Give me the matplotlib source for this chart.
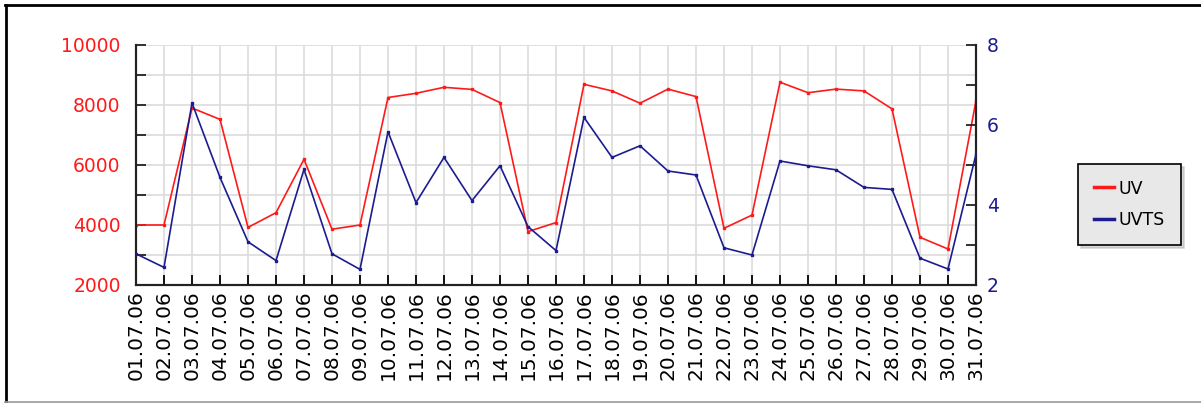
import matplotlib
matplotlib.use("Agg")
import matplotlib.pyplot as plt
from matplotlib.lines import Line2D
from matplotlib.ticker import MultipleLocator

dates = [f"{d:02d}.07.06" for d in range(1, 32)]
uv = [4000, 4000, 7900, 7520, 3920, 4410, 6190, 3860, 4000, 8250,
      8390, 8590, 8520, 8080, 3780, 4080, 8690, 8470, 8060, 8530,
      8280, 3890, 4330, 8760, 8410, 8530, 8470, 7870, 3590, 3200, 8140]
uvts = [2.78, 2.44, 6.55, 4.69, 3.08, 2.61, 4.89, 2.78, 2.39, 5.83,
        4.06, 5.19, 4.11, 4.98, 3.46, 2.86, 6.19, 5.19, 5.48, 4.85,
        4.75, 2.93, 2.75, 5.10, 4.98, 4.88, 4.44, 4.39, 2.67, 2.40, 5.27]
series_names = ["UV", "UVTS"]

RED = "#ff1a1a"
BLUE = "#1c1c8f"
W, H = 1201, 403

fig = plt.figure(figsize=(W / 100, H / 100), dpi=100)
ax = fig.add_axes([136 / W, 1 - 285 / H, (976 - 136) / W, (285 - 45) / H])
ax2 = ax.twinx()

x = list(range(len(dates)))
ax.plot(x, uv, color=RED, lw=1.2, marker="s", ms=1.6, label=series_names[0], zorder=3)
ax2.plot(x, uvts, color=BLUE, lw=1.2, marker="s", ms=1.6, label=series_names[1], zorder=3)

ax.set_xlim(0, len(dates) - 1)
ax.set_ylim(2000, 10000)
ax2.set_ylim(2, 8)

ax.set_xticks(x)
ax.set_xticklabels(dates, rotation=90, fontsize=14.5, color="black")
ax.yaxis.set_major_locator(MultipleLocator(2000))
ax.yaxis.set_minor_locator(MultipleLocator(1000))
ax2.yaxis.set_major_locator(MultipleLocator(2))
ax2.yaxis.set_minor_locator(MultipleLocator(1))

ax.grid(True, which="both", color="#dcdcdc", lw=1.2, zorder=0)
ax.set_axisbelow(True)

ax.tick_params(axis="x", direction="in", length=7, width=1.3, pad=4, colors="black")
ax.tick_params(axis="y", which="both", direction="in", length=7, width=1.3,
               pad=11, labelcolor=RED, labelsize=13.5, color="#222222")
ax2.tick_params(axis="y", which="both", direction="in", length=7, width=1.3,
                pad=8, labelcolor=BLUE, labelsize=13.5, color="#222222")

for a in (ax, ax2):
    a.spines["top"].set_visible(False)
    for s in ("left", "bottom", "right"):
        a.spines[s].set_linewidth(1.5)
        a.spines[s].set_color("#222222")

handles = [Line2D([], [], color=RED, lw=2.5), Line2D([], [], color=BLUE, lw=2.5)]
leg = fig.legend(handles, series_names, loc="center",
                 bbox_to_anchor=(1129.5 / W, 1 - 204.5 / H),
                 fontsize=12.5, frameon=True, fancybox=False,
                 shadow={"color": "#b0b0b0"},
                 handlelength=1.15, handletextpad=0.3, labelspacing=0.8,
                 borderpad=0.9)
leg.get_frame().set_facecolor("#e8e8e8")
leg.get_frame().set_edgecolor("black")
leg.get_frame().set_linewidth(1.2)
leg.get_frame().set_alpha(1)

# outer frame of the chart image
fig.add_artist(Line2D([5 / W, 1], [1 - 4.5 / H, 1 - 4.5 / H], transform=fig.transFigure,
                      color="black", lw=2))
fig.add_artist(Line2D([5.5 / W, 5.5 / W], [0, 1 - 4.5 / H], transform=fig.transFigure,
                      color="black", lw=2))
fig.add_artist(Line2D([5 / W, 1], [1.5 / H, 1.5 / H], transform=fig.transFigure,
                      color="#9a9a9a", lw=1.2))

fig.savefig("out.png", dpi=100, facecolor="white")
